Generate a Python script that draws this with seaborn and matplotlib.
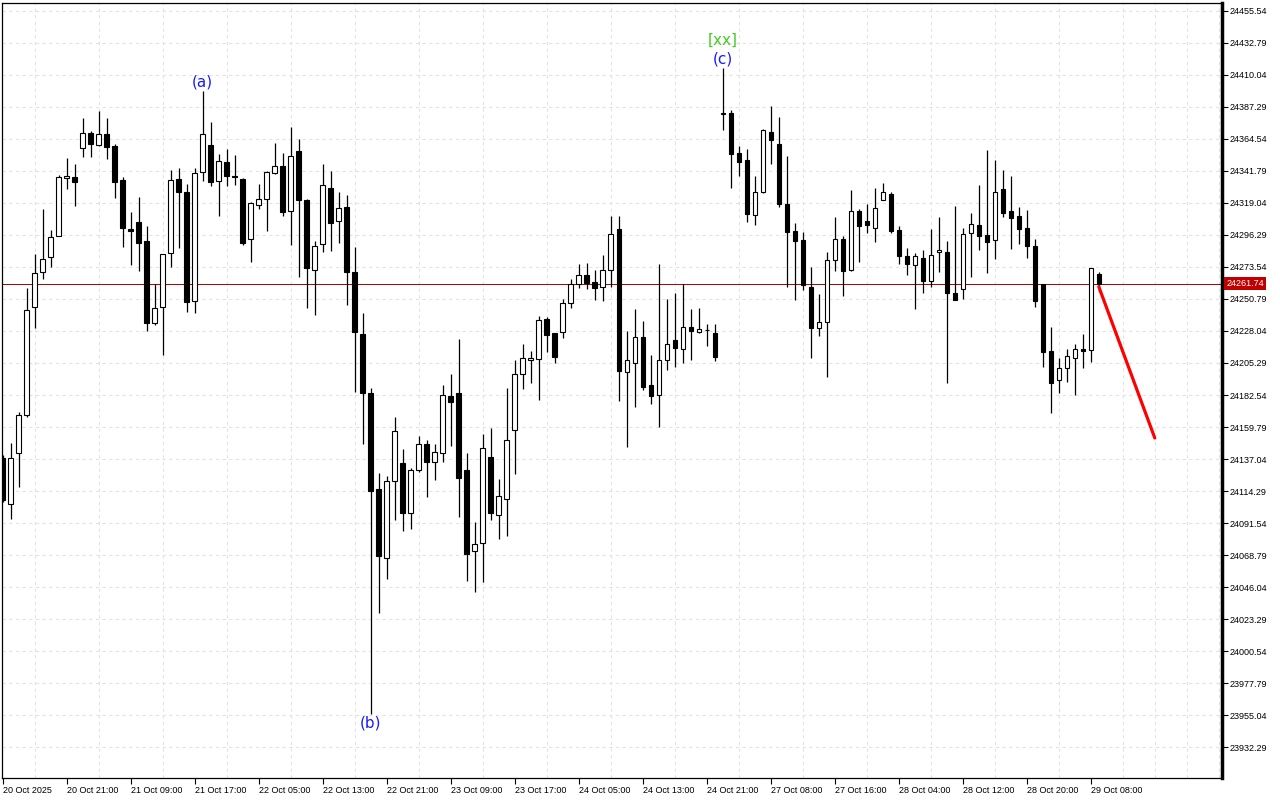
import numpy as np
import pandas as pd
import matplotlib
matplotlib.use("Agg")
import matplotlib.pyplot as plt
import seaborn as sns

# ---------------------------------
# OHLC data (hourly bars)
# ---------------------------------
opens = [
    24138.1, 24104.8, 24141.3, 24168.0, 24245.0, 24269.8, 24280.8, 24295.8, 24336.5, 24337.3,
    24357.9, 24369.0, 24360.4, 24367.7, 24359.4, 24335.3, 24300.2, 24305.3, 24291.9, 24233.5,
    24245.0, 24283.2, 24335.7, 24327.0, 24249.5, 24341.0, 24359.8, 24334.3, 24348.0, 24338.1,
    24335.8, 24293.1, 24317.2, 24321.5, 24340.2, 24345.1, 24313.5, 24355.8, 24321.0, 24271.0,
    24289.5, 24329.6, 24305.8, 24316.0, 24269.6, 24225.6, 24183.7, 24115.5, 24066.9, 24121.2,
    24133.9, 24098.9, 24129.0, 24147.4, 24135.3, 24141.4, 24181.6, 24183.7, 24129.0, 24071.6,
    24077.1, 24138.3, 24097.1, 24108.4, 24157.4, 24197.5, 24207.4, 24208.1, 24236.5, 24226.3,
    24227.5, 24247.6, 24261.1, 24267.5, 24262.8, 24259.0, 24271.1, 24300.2, 24198.6, 24205.0,
    24223.7, 24189.6, 24182.3, 24207.4, 24221.4, 24215.4, 24230.8, 24227.5, 24228.5, 24226.3,
    24382.1, 24382.6, 24354.2, 24349.3, 24310.2, 24326.6, 24369.1, 24360.6, 24318.2, 24299.0,
    24292.5, 24259.4, 24229.8, 24234.6, 24278.8, 24293.7, 24271.5, 24313.6, 24305.9, 24300.9,
    24321.4, 24325.1, 24299.7, 24281.6, 24275.0, 24279.8, 24263.7, 24283.9, 24283.9, 24254.7,
    24258.0, 24297.4, 24303.3, 24296.2, 24292.4, 24328.8, 24313.2, 24309.6, 24301.5, 24288.3,
    24261.3, 24213.8, 24192.9, 24201.5, 24208.8, 24215.0, 24214.3, 24268.2,
]
highs = [
    24139.8, 24148.7, 24170.4, 24258.4, 24282.7, 24314.4, 24299.7, 24338.5, 24351.0, 24346.7,
    24379.4, 24370.1, 24384.2, 24379.4, 24360.6, 24337.3, 24312.4, 24322.9, 24302.5, 24261.4,
    24282.4, 24342.4, 24344.1, 24332.5, 24344.1, 24398.7, 24376.4, 24353.8, 24357.4, 24353.0,
    24336.7, 24319.6, 24332.5, 24341.8, 24361.9, 24354.3, 24372.9, 24364.5, 24321.8, 24291.6,
    24346.4, 24341.5, 24326.4, 24324.3, 24287.6, 24241.1, 24187.3, 24126.9, 24125.2, 24167.0,
    24144.1, 24130.6, 24153.3, 24150.5, 24147.4, 24189.6, 24197.5, 24222.1, 24141.7, 24092.0,
    24154.5, 24158.8, 24122.6, 24187.3, 24207.2, 24218.9, 24213.9, 24238.6, 24238.1, 24226.8,
    24250.7, 24264.9, 24275.5, 24276.2, 24271.2, 24281.9, 24309.6, 24309.6, 24228.1, 24243.6,
    24235.1, 24210.9, 24275.5, 24250.7, 24254.9, 24261.1, 24243.6, 24244.2, 24232.7, 24232.7,
    24415.0, 24385.0, 24359.4, 24357.3, 24338.1, 24371.5, 24387.8, 24380.0, 24352.3, 24304.8,
    24298.2, 24273.5, 24254.6, 24284.2, 24309.0, 24295.4, 24327.9, 24314.8, 24318.2, 24329.5,
    24332.9, 24326.5, 24302.5, 24286.7, 24283.2, 24285.4, 24300.4, 24308.9, 24291.8, 24316.8,
    24301.1, 24312.0, 24331.7, 24356.5, 24349.4, 24342.4, 24338.1, 24315.8, 24313.9, 24293.7,
    24261.3, 24230.6, 24208.6, 24215.0, 24218.5, 24225.6, 24272.5, 24269.6,
]
lows = [
    24106.5, 24094.2, 24117.5, 24166.8, 24230.5, 24264.9, 24273.5, 24295.4, 24328.9, 24317.0,
    24351.7, 24351.7, 24359.4, 24350.5, 24322.4, 24287.8, 24274.7, 24270.6, 24228.2, 24232.5,
    24211.2, 24273.8, 24287.0, 24241.6, 24241.1, 24334.8, 24330.7, 24309.9, 24330.7, 24332.0,
    24288.8, 24277.1, 24314.4, 24298.9, 24339.6, 24309.9, 24289.0, 24266.2, 24244.7, 24239.6,
    24284.1, 24284.9, 24290.8, 24246.4, 24184.8, 24147.9, 23956.0, 24027.5, 24051.6, 24093.9,
    24086.1, 24087.5, 24128.0, 24109.9, 24122.1, 24135.0, 24146.5, 24096.0, 24050.6, 24042.8,
    24049.9, 24093.9, 24080.4, 24082.5, 24126.6, 24187.0, 24191.2, 24179.1, 24213.2, 24205.0,
    24223.2, 24244.5, 24258.7, 24258.0, 24250.0, 24249.5, 24259.4, 24178.4, 24145.9, 24174.2,
    24185.8, 24176.3, 24160.0, 24200.3, 24202.6, 24205.4, 24207.6, 24226.8, 24217.6, 24206.9,
    24370.8, 24329.8, 24338.3, 24305.6, 24303.6, 24326.0, 24346.6, 24316.3, 24259.4, 24250.0,
    24256.9, 24208.5, 24224.6, 24195.1, 24270.8, 24252.8, 24270.8, 24277.2, 24297.8, 24291.4,
    24321.0, 24297.8, 24275.8, 24268.0, 24243.6, 24255.2, 24259.4, 24270.1, 24191.2, 24250.2,
    24250.9, 24266.5, 24285.7, 24269.4, 24279.3, 24309.2, 24286.4, 24289.9, 24279.6, 24245.2,
    24202.6, 24169.5, 24184.2, 24191.9, 24182.7, 24201.9, 24206.1, 24255.9,
]
closes = [
    24108.1, 24138.1, 24168.7, 24242.6, 24268.9, 24279.2, 24295.1, 24337.3, 24338.1, 24334.0,
    24369.0, 24361.1, 24367.7, 24358.4, 24334.0, 24301.5, 24298.7, 24290.8, 24234.0, 24244.2,
    24282.4, 24335.0, 24326.5, 24248.7, 24340.2, 24367.7, 24333.5, 24348.5, 24338.3, 24337.5,
    24290.8, 24318.7, 24321.5, 24341.0, 24345.1, 24312.6, 24352.2, 24321.3, 24273.1, 24288.3,
    24331.4, 24305.0, 24315.2, 24270.0, 24227.4, 24184.3, 24114.5, 24068.3, 24121.2, 24156.7,
    24098.9, 24129.0, 24147.8, 24135.0, 24142.4, 24182.3, 24177.3, 24123.3, 24069.7, 24076.4,
    24144.6, 24098.9, 24110.6, 24150.3, 24197.5, 24208.8, 24208.8, 24235.8, 24225.3, 24209.9,
    24247.6, 24261.1, 24267.5, 24262.3, 24258.7, 24271.1, 24296.6, 24199.8, 24207.4, 24223.5,
    24188.4, 24182.0, 24207.4, 24218.7, 24216.1, 24230.6, 24228.2, 24229.2, 24228.7, 24209.2,
    24382.8, 24354.0, 24348.3, 24311.1, 24326.9, 24370.8, 24363.9, 24318.4, 24298.5, 24292.1,
    24260.8, 24230.2, 24234.1, 24278.3, 24293.1, 24270.8, 24313.6, 24302.7, 24303.3, 24315.1,
    24326.5, 24299.2, 24281.1, 24275.8, 24281.0, 24263.7, 24281.7, 24285.3, 24255.2, 24250.2,
    24296.6, 24303.8, 24295.7, 24291.4, 24326.5, 24312.0, 24308.4, 24300.6, 24288.3, 24249.5,
    24213.3, 24191.2, 24201.5, 24210.0, 24215.0, 24214.0, 24272.5, 24261.74,
]

time_labels = [
    "20 Oct 2025", "20 Oct 21:00", "21 Oct 09:00", "21 Oct 17:00", "22 Oct 05:00",
    "22 Oct 13:00", "22 Oct 21:00", "23 Oct 09:00", "23 Oct 17:00", "24 Oct 05:00",
    "24 Oct 13:00", "24 Oct 21:00", "27 Oct 08:00", "27 Oct 16:00", "28 Oct 04:00",
    "28 Oct 12:00", "28 Oct 20:00", "29 Oct 08:00",
]
price_ticks = [
    24455.54, 24432.79, 24410.04, 24387.29, 24364.54, 24341.79, 24319.04, 24296.29,
    24273.54, 24250.79, 24228.04, 24205.29, 24182.54, 24159.79, 24137.04, 24114.29,
    24091.54, 24068.79, 24046.04, 24023.29, 24000.54, 23977.79, 23955.04, 23932.29,
]
last_price = 24261.74

wave_labels = ["(a)", "(b)", "[xx]", "(c)"]
wave_bars = [25, 46, 90, 90]
wave_prices = [24404.9, 23949.5, 24434.7, 24421.2]
wave_colors = ["#1a1aff", "#1a1aff", "#44cc22", "#1a1aff"]

proj_bars = [137, 144]
proj_prices = [24259.5, 24152.0]

# ---------------------------------
# Plot
# ---------------------------------
sns.set_style("white", {"axes.edgecolor": "black", "xtick.bottom": True, "ytick.right": True})
plt.rcParams['font.family'] = ['Liberation Sans', 'DejaVu Sans']

df = pd.DataFrame({"open": opens, "high": highs, "low": lows, "close": closes})
df["bar"] = np.arange(len(df))
up = df["close"] >= df["open"]

fig = plt.figure(figsize=(12.8, 8), dpi=100)
ax = fig.add_axes([2 / 1280, 22 / 800, 1220 / 1280, 775 / 800])

# grid
grid_kw = dict(color="#e3e3e3", linestyle=(0, (3, 3)), linewidth=0.8)
ax.set_xticks(np.arange(0, 153, 4), minor=True)
ax.grid(True, axis="x", which="minor", **grid_kw)
ax.grid(True, axis="y", which="major", **grid_kw)
ax.set_axisbelow(True)

# candles
ax.vlines(df["bar"], df["low"], df["high"], color="black", linewidth=0.9, zorder=2)
body_bottom = np.minimum(df["open"], df["close"])
body_height = np.maximum((df["close"] - df["open"]).abs(), 0.4)
ax.bar(df["bar"], body_height, bottom=body_bottom, width=0.55,
       color=np.where(up, "white", "black"), edgecolor="black", linewidth=0.8, zorder=3)

# current price line
ax.axhline(last_price, color="#a80000", linewidth=0.7, zorder=1)
ax.text(1.0035, last_price, f"{last_price:.2f}", transform=ax.get_yaxis_transform(),
        ha="left", va="center", color="white", fontsize=6.5, zorder=10,
        bbox=dict(boxstyle="square,pad=0.25", fc="#c00000", ec="none"))

# projection
sns.lineplot(x=proj_bars, y=proj_prices, color="#ff0000", linewidth=2.3, ax=ax,
             legend=False, zorder=4)

# wave labels
for lab, b, p, c in zip(wave_labels, wave_bars, wave_prices, wave_colors):
    ax.text(b, p, lab, color=c, ha="center", va="center", fontsize=11,
            family=["DejaVu Sans"], zorder=5)

# axes
ax.set_xlim(-0.075, 152.4)
ax.set_ylim(23910.5, 24461.0)
ax.set_xticks(np.arange(0, 137, 8))
ax.set_xticklabels(time_labels, ha="left")
ax.tick_params(axis="x", which="major", length=4, width=0.8, pad=1.5, labelsize=6.5,
               colors="black")
ax.tick_params(axis="x", which="minor", length=0)
ax.yaxis.tick_right()
ax.set_yticks(price_ticks)
ax.set_yticklabels([f"{v:.2f}" for v in price_ticks])
ax.tick_params(axis="y", length=4, width=0.8, pad=1.5, labelsize=6.5, colors="black")
ax.set_xlabel("")
ax.set_ylabel("")

for side in ["left", "top", "bottom"]:
    ax.spines[side].set_linewidth(0.9)
    ax.spines[side].set_color("black")
ax.spines["right"].set_linewidth(2.5)
ax.spines["right"].set_color("black")

fig.savefig("out.png", dpi=100)
